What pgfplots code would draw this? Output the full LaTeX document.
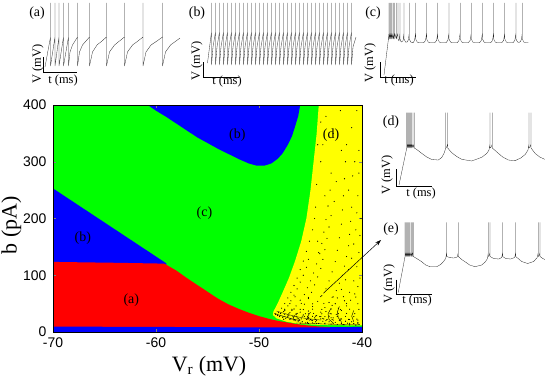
\documentclass[border=0pt]{standalone}
\usepackage{pgfplots}
\pgfplotsset{compat=1.18}
\usepackage{fontspec}
\setmainfont{Liberation Serif}
\setsansfont{Liberation Sans}
\usetikzlibrary{arrows.meta}

\definecolor{pgreen}{RGB}{0,255,0}
\definecolor{pblue}{RGB}{0,0,255}
\definecolor{pred}{RGB}{255,0,0}
\definecolor{pyellow}{RGB}{255,255,0}

\pgfplotsset{
  inset/.style={anchor=south west, x=1bp, y=1bp, xmin=0, xmax=160, ymin=0, ymax=80,
    hide axis, clip=false, enlargelimits=false},
  trace/.style={black!85, line width=0.3pt, line join=round},
  bar/.style={black, line width=0.5pt},
}
\newcommand{\lab}{\fontsize{14}{14}\selectfont}
\newcommand{\smalllab}{\fontsize{12.5}{12.5}\selectfont}

\begin{document}
\begin{tikzpicture}
\useasboundingbox (0,0) rectangle (545bp,-382bp);

% ---------------- main phase diagram ----------------
\begin{axis}[
    at={(53bp,-332bp)}, anchor=south west,
    scale only axis, width=309bp, height=227bp,
    xmin=-70, xmax=-40, ymin=0, ymax=400,
    xtick={-70,-60,-50,-40}, ytick={0,100,200,300,400},
    tick align=inside, major tick length=3bp,
    ticklabel style={font=\sffamily\fontsize{14}{14}\selectfont},
    yticklabel style={xshift=-3bp},
    xticklabel style={yshift=-2bp},
    /pgf/number format/assume math mode=true,
    xlabel={V\textsubscript{r} (mV)}, ylabel={b (pA)},
    label style={font=\fontsize{22}{22}\selectfont},
    xlabel style={at={(axis description cs:0.505,-0.15)}, anchor=center},
    ylabel style={at={(axis description cs:-0.135,0.47)}, anchor=center},
    axis on top,
]
% (c) background
\addplot[fill=pgreen, draw=none] coordinates {(-70,0)(-40,0)(-40,400)(-70,400)} -- cycle;
% (b) lower left
\addplot[fill=pblue, draw=none] coordinates {
  (-70,118)(-70,253)(-67,217)(-64,181)(-61,145)(-59,121)(-59,118)} -- cycle;
% (a) red
\addplot[fill=pred, draw=none] coordinates {
  (-70,5)(-70,123.5)(-64,122)(-59.2,120.5)(-58,108)(-57,95)(-56,83)(-55,71)(-54,59)
  (-53,49)(-52,41)(-51,34)(-50,28)(-49,23)(-48,19)(-47,16)(-46,13)(-45,11)
  (-44,9.5)(-43,8.5)(-40,8.5)(-40,5)} -- cycle;
% bottom blue band
\addplot[fill=pblue, draw=none] coordinates {
  (-70,0)(-70,9.5)(-60,9)(-50,8)(-45,8)(-40,9)(-40,0)} -- cycle;
% (b) upper
\addplot[fill=pblue, draw=none] coordinates {
  (-60.8,400)(-60,390)(-59,379)(-58,367)(-57,355)(-56,343)(-55,333)(-54,323)
  (-53,314)(-52,305)(-51,297)(-50.2,293)(-49.5,293)(-48.8,297)(-48.2,305)
  (-47.7,315)(-47.2,330)(-46.8,345)(-46.5,362)(-46.2,380)(-46,400)} -- cycle;
% (d) yellow
\addplot[fill=pyellow, draw=none] coordinates {
  (-44.2,400)(-44.4,350)(-44.7,300)(-45.0,250)(-45.4,200)(-45.9,160)(-46.5,125)
  (-47.1,95)(-47.7,70)(-48.2,50)(-48.6,36)(-48.65,30)(-48.3,24)(-47.3,18)
  (-46,14)(-44,12.5)(-42,12)(-40,11.5)(-40,400)} -- cycle;
% chaotic points
\addplot[only marks, mark=*, mark size=0.28pt, black] coordinates {
  (-48.1,34)(-47.8,42)(-47.5,50)(-47.2,60)(-46.9,70)(-46.6,82)(-46.3,95)(-46.0,110)
  (-45.7,125)(-45.4,142)(-45.1,160)(-44.8,180)(-44.6,200)
  (-47.2,30)(-46.8,38)(-46.4,46)(-46.0,56)(-45.6,66)(-45.3,78)(-45.0,90)(-44.7,104)
  (-44.4,120)(-44.1,138)(-43.9,156)(-43.7,176)(-43.5,198)(-43.3,222)(-43.1,250)(-43.0,280)
  (-46.2,24)(-45.7,30)(-45.2,37)(-44.8,45)(-44.3,54)(-43.9,64)(-43.5,76)(-43.2,90)
  (-42.9,106)(-42.6,124)(-42.4,144)(-42.2,166)(-42.0,190)(-41.9,215)(-41.8,240)
  (-41.7,270)(-41.6,300)(-41.5,330)
  (-44.5,18)(-43.8,24)(-43.0,32)(-42.3,42)(-41.7,55)(-41.2,70)(-40.8,90)(-40.5,115)
  (-40.3,140)(-40.2,170)(-40.1,200)
  (-45.5,16)(-44.8,20)(-44.1,27)(-43.5,36)(-42.9,47)(-42.4,60)(-42,75)(-41.6,92)
  (-41.3,110)(-41,130)(-40.8,155)(-40.6,180)(-40.5,210)(-40.4,240)(-40.3,280)(-40.3,320)
  (-47.5,38)(-47.2,46)(-46.9,55)(-46.6,65)(-46.3,76)(-46,88)(-45.7,100)(-45.4,114)(-45.2,128)
  (-46.4,32)(-46,40)(-45.6,49)(-45.2,59)(-44.9,70)(-44.6,83)(-44.3,97)(-44,112)
  (-43.8,128)(-43.6,145)(-43.4,165)(-43.2,185)(-43,205)
  (-45.0,22)(-44.5,28)(-44,35)(-43.6,43)(-43.2,52)(-42.8,62)(-42.5,73)(-42.2,86)
  (-41.9,100)(-41.7,116)(-41.5,133)(-41.3,152)(-41.2,172)(-41.1,195)(-41,220)
  (-43.5,20)(-43,25)(-42.5,31)(-42,38)(-41.5,46)(-41.1,56)(-40.7,67)(-40.4,80)(-40.2,95)
  (-44.2,140)(-44.3,160)(-44.5,220)(-44.4,260)(-44.3,330)(-44,370)
  (-48.4,31)(-48.2,29)(-48,27)(-47.7,26)(-47.4,24)(-47,22)(-46.6,21)(-46.2,19)
  (-45.8,18)(-45.3,17)(-44.8,16)(-44.2,15)(-43.6,14.5)(-43,14)(-42.4,13.5)(-41.8,13)
  (-41.2,12.5)(-40.6,12)
  (-47.9,33)(-47.5,31)(-47.1,29)(-46.7,27)(-46.3,25)(-45.9,23)(-45.4,22)(-44.9,21)
  (-44.4,20)(-43.8,19)(-43.2,18)(-42.6,17)(-42,16)(-41.4,15.5)(-40.8,15)
  (-47.6,36)(-47.0,34)(-46.4,31)(-45.8,28)(-45.2,26)(-44.6,25)(-44,23)(-43.4,22)
  (-42.8,21)(-42.2,20)(-41.6,19)(-41,18)(-40.4,17)
  (-46.8,40)(-46,35)(-45.2,32)(-44.4,29)(-43.6,27)(-42.8,25)(-42,23)(-41.2,22)(-40.4,21)
  (-47.6,22.5)(-46.9,22.8)(-46.1,22.2)(-45.3,23)(-44.5,22.4)(-43.7,22.9)(-42.9,22.3)
  (-42.1,22.8)(-41.3,22.2)(-40.5,22.7)
  (-48.0,27.5)(-47.2,27.2)(-46.4,27.8)(-45.6,27.3)(-44.8,27.7)(-44.0,27.2)(-43.2,27.8)
  (-42.4,27.3)(-41.6,27.6)(-40.8,27.2)
  (-47.9,32.5)(-47.1,32.1)(-46.3,32.8)(-45.5,32.2)(-44.7,32.7)(-43.9,32.1)(-43.1,32.6)
  (-42.3,32.3)(-41.5,32.8)(-40.7,32.2)
  (-46.0,15.5)(-45.2,15)(-44.4,15.2)(-43.6,15.6)(-42.8,15.1)(-42.0,14.8)(-41.2,15.3)(-40.4,14.9)
  (-47.5,40)(-46.6,40.5)(-45.7,39.6)(-44.8,40.3)(-43.9,39.8)(-43.0,40.4)(-42.1,39.7)
  (-41.2,40.2)(-40.3,39.9)
  (-47.0,50)(-45.9,50.5)(-44.8,49.6)(-43.7,50.3)(-42.6,49.8)(-41.5,50.4)(-40.4,49.7)
  (-46.5,62)(-45.2,61)(-44.0,62.5)(-42.9,61.3)(-41.8,62.2)(-40.6,61.6)
  (-43.5,380)(-42.8,350)(-41,360)(-40.5,390)(-42,320)(-43.8,330)(-44,300)(-42.5,265)
  (-40.7,300)(-41.3,250)(-43.6,240)(-42.1,390)(-40.9,275)(-42.7,230)
};
% dense streaks near the bottom
\addplot[black, line width=0.5pt] coordinates {
  (-48.5,33)(-48.1,30)(-47.5,27)(-46.8,23)(-46,20)};
\addplot[black, line width=0.3pt] coordinates {(-48.3,37)(-47.6,33)(-46.6,28)(-45.5,24)(-44,21)};
\addplot[black, line width=0.3pt] coordinates {(-46.4,16)(-45,15)(-43.5,14)(-42,13.5)(-40.2,13)};
\addplot[black, line width=0.4pt] coordinates {(-43,42)(-43.3,32)(-43.2,22)(-42.8,16)};
\addplot[black, line width=0.4pt] coordinates {(-42.2,45)(-42.4,35)(-42.3,25)(-42,18)};
\addplot[black, line width=0.4pt] coordinates {(-45,35)(-45.3,27)(-45.1,20)};
\addplot[black, line width=0.4pt] coordinates {(-46.5,30)(-46.7,24)(-46.4,19)};
\addplot[black, line width=0.4pt] coordinates {(-40.8,38)(-41,28)(-40.8,18)};

\node[font=\lab] at (axis cs:-52.1,347) {(b)};
\node[font=\lab] at (axis cs:-43,347) {(d)};
\node[font=\lab] at (axis cs:-55.3,210) {(c)};
\node[font=\lab] at (axis cs:-67.1,166) {(b)};
\node[font=\lab] at (axis cs:-62.4,57) {(a)};
\end{axis}

\draw[-{Stealth[length=6bp,width=4bp]}, line width=0.5pt] (323.3bp,-293.3bp) -- (381bp,-240bp);

% ---------------- inset (a) ----------------
\begin{axis}[inset, at={(43bp,-72bp)}]
\addplot[trace] coordinates {
  (2,5)(7.5,35)(7.5,69)(7.5,6)(12,35)(12,69)(12,6)(16,35)(16,69)(16,6)
  (20.5,35)(20.5,69)(20.5,6)(25.5,35)(25.5,69)(25.5,6)
  (27,20)(29.5,27)(32,31)(34.5,35)(34.5,69)(34.5,6)
  (36.5,20)(39.5,27)(43,31)(46.5,35)(46.5,69)(46.5,6)
  (49.5,20)(54,27)(59,31)(63.5,35)(63.5,69)(63.5,6)
  (66.5,20)(71.5,27)(76.5,31)(81.5,35)(81.5,69)(81.5,6)
  (84.5,20)(89.5,27)(95,31)(100,35)(100,69)(100,6)
  (103,20)(108,27)(114,31)(119.5,35)(119.5,69)(119.5,6)
  (122.5,20)(127.5,27)(133,31)(137,34)};
\addplot[bar] coordinates {(0,15)(0,0)(34,0)};
\end{axis}

% ---------------- inset (b) ----------------
\begin{axis}[inset, at={(203.5bp,-77bp)}]
\addplot[trace] coordinates {
  (4,14)
  (8,45)(8,74)(8,12)(9.5,30)(12,45)(12,74)(12,12)(13.5,30)
  (16,45)(16,74)(16,12)(17.5,30)(20,45)(20,74)(20,12)(21.5,30)
  (24,45)(24,74)(24,12)(25.5,30)(28,45)(28,74)(28,12)(29.5,30)
  (32,45)(32,74)(32,12)(33.5,30)(36,45)(36,74)(36,12)(37.5,30)
  (40,45)(40,74)(40,12)(41.5,30)(44,45)(44,74)(44,12)(45.5,30)
  (48,45)(48,74)(48,12)(49.5,30)(52,45)(52,74)(52,12)(53.5,30)
  (56,45)(56,74)(56,12)(57.5,30)(60,45)(60,74)(60,12)(61.5,30)
  (64,45)(64,74)(64,12)(65.5,30)(68,45)(68,74)(68,12)(69.5,30)
  (72,45)(72,74)(72,12)(73.5,30)(76,45)(76,74)(76,12)(77.5,30)
  (80,45)(80,74)(80,12)(81.5,30)(84,45)(84,74)(84,12)(85.5,30)
  (88,45)(88,74)(88,12)(89.5,30)(92,45)(92,74)(92,12)(93.5,30)
  (96,45)(96,74)(96,12)(97.5,30)(100,45)(100,74)(100,12)(101.5,30)
  (104,45)(104,74)(104,12)(105.5,30)(108,45)(108,74)(108,12)(109.5,30)
  (112,45)(112,74)(112,12)(113.5,30)(116,45)(116,74)(116,12)(117.5,30)
  (120,45)(120,74)(120,12)(121.5,30)(124,45)(124,74)(124,12)(125.5,30)
  (128,45)(128,74)(128,12)(129.5,30)(132,45)(132,74)(132,12)(133.5,30)
  (136,45)(136,74)(136,12)(137.5,30)(140,45)(140,74)(140,12)(141.5,30)
  (144,45)(144,74)(144,12)(145.5,30)(148,45)(148,74)(148,12)(149.5,30)
  (152.5,40)};
\addplot[bar] coordinates {(0,15)(0,0)(35,0)};
\end{axis}

% ---------------- inset (c) ----------------
\begin{axis}[inset, at={(380.7bp,-77bp)}]
\addplot[trace] coordinates {
  (3.3,2)(7.6,37)
  (8.3,44)(8.3,74)(8.3,38)(9.3,44)(9.3,74)(9.3,38)(10.3,44)(10.3,74)(10.3,38)
  (11.3,44)(11.3,74)(11.3,38)(12.6,44)(12.6,74)(12.6,38)(14,44)(14,74)(14,38)
  (15.6,44)(15.6,74)(15.6,38)(17.3,44)(17.3,74)(17.3,38)
  (18.3,36)(19.3,44)(19.3,74)(19.3,38)
  (20.5,35)(22.3,36)(23.3,44)(23.3,74)(23.3,38)
  (25,34.8)(26.5,35)(27.6,37)(28.6,44)(28.6,74)(28.6,38)
  (30,35)(31.5,34.4)(32.5,34.4)(33.8,36.5)(35,44)(35,74)(35,38)
  (36.5,35)(38,34.3)(43,34.3)(44.8,36.5)(46,44)(46,74)(46,38)
  (47.5,35)(49,34.3)(54.1,34.3)(55.9,36.5)(57.1,44)(57.1,74)(57.1,38)
  (58.6,35)(60.1,34.3)(65.3,34.3)(67.1,36.5)(68.3,44)(68.3,74)(68.3,38)
  (69.8,35)(71.3,34.3)(76.5,34.3)(78.3,36.5)(79.5,44)(79.5,74)(79.5,38)
  (81,35)(82.5,34.3)(87.6,34.3)(89.4,36.5)(90.6,44)(90.6,74)(90.6,38)
  (92.1,35)(93.6,34.3)(98.8,34.3)(100.6,36.5)(101.8,44)(101.8,74)(101.8,38)
  (103.3,35)(104.8,34.3)(110,34.3)(111.8,36.5)(113,44)(113,74)(113,38)
  (114.5,35)(116,34.3)(121.1,34.3)(122.9,36.5)(124.1,44)(124.1,74)(124.1,38)
  (125.6,35)(127.1,34.3)(132.3,34.3)(134.1,36.5)(135.3,44)(135.3,74)(135.3,38)
  (136.8,35)(138.3,34.6)(139.8,35.5)(140.8,38)(141.6,44)(141.6,74)(141.6,38)
  (143.1,35)(144.6,34.3)(147.6,34.3)};
\addplot[bar] coordinates {(0,15)(0,0)(35,0)};
\end{axis}

% ---------------- inset (d) ----------------
\begin{axis}[inset, at={(396.7bp,-186bp)}]
\addplot[trace] coordinates {
  (2.3,1)(10,37.7)
  (10,42)(10,73.3)(10,38)(11,42)(11,73.3)(11,38)(12,42)(12,73.3)(12,38)
  (13,42)(13,73.3)(13,38)(14,42)(14,73.3)(14,38)(15,42)(15,73.3)(15,38)
  (16.3,42)(16.3,73.3)(16.3,38)(17.6,42)(17.6,73.3)(17.6,38)
  (20,36.5)(25,32.7)(30,29)(35,26.5)(41.6,26)(45,28.5)(47.5,33)(49,38)
  (49,42)(49,73.3)(49,38)(50,39)(51,42)(51,73.3)(51,38)
  (55,33.3)(60,29.5)(65,26.7)(75,25)(85,28.7)(90,32.5)(92.3,36)
  (93.3,42)(93.3,73.3)(93.3,38)(94.5,39)(95.6,42)(95.6,73.3)(95.6,38)
  (101.6,32.7)(106,29)(111.6,26)(118.3,25.3)(124,28)(128.5,31.5)(131.3,36)
  (132.3,42)(132.3,73.3)(132.3,38)(133.3,39)(134.3,42)(134.3,73.3)(134.3,38)
  (138.3,32.7)(143,29)(148,26.7)};
\addplot[bar] coordinates {(0,17)(0,0)(35,0)};
\end{axis}

% ---------------- inset (e) ----------------
\begin{axis}[inset, at={(396.7bp,-294.5bp)}]
\addplot[trace] coordinates {
  (1.5,2)(8.3,37.8)
  (8.3,42)(8.3,72)(8.3,38)(9.3,42)(9.3,72)(9.3,38)(10.3,42)(10.3,72)(10.3,38)
  (11.3,42)(11.3,72)(11.3,38)(12.3,42)(12.3,72)(12.3,38)(13.3,42)(13.3,72)(13.3,38)
  (14.5,42)(14.5,72)(14.5,38)(15.7,42)(15.7,72)(15.7,38)(16.6,42)(16.6,72)(16.6,38)
  (20,36)(25,32.8)(29,29.5)(33.3,27.8)(40,27.8)(44,30)(46.6,32.8)(49,36)
  (50,42)(50,72)(50,38)
  (53,37)(57,36.5)(60.5,37.5)(61.6,42)(61.6,72)(61.6,38)
  (65,35)(68.3,32.8)(73,29.5)(78.3,27.8)(85,29.5)(88.5,32.5)(90.8,36)
  (91.6,42)(91.6,72)(91.6,38)(92.5,39)(93.3,42)(93.3,72)(93.3,38)
  (97,36)(102,35.5)(105,37)(106,42)(106,72)(106,38)
  (109,36)(114,35.5)(118,37)(119,42)(119,72)(119,38)
  (125,33)(131,31)(137,33)(140.5,37)
  (141.6,42)(141.6,72)(141.6,38)(142.5,39)(143.3,42)(143.3,72)(143.3,38)
  (146,36)(148.3,35)};
\addplot[bar] coordinates {(0,15)(0,0)(35,0)};
\end{axis}

% ---------------- inset labels ----------------
\node[font=\lab] at (37bp,-13bp) {(a)};
\node[font=\smalllab, rotate=90] at (38bp,-64bp) {V (mV)};
\node[font=\smalllab] at (63bp,-81bp) {t (ms)};
\node[font=\lab] at (197bp,-13bp) {(b)};
\node[font=\smalllab, rotate=90] at (197bp,-61bp) {V (mV)};
\node[font=\smalllab] at (227bp,-82bp) {t (ms)};
\node[font=\lab] at (373bp,-13bp) {(c)};
\node[font=\smalllab, rotate=90] at (370bp,-63bp) {V (mV)};
\node[font=\smalllab] at (399bp,-81bp) {t (ms)};
\node[font=\lab] at (391bp,-122bp) {(d)};
\node[font=\smalllab, rotate=90] at (387bp,-175bp) {V (mV)};
\node[font=\smalllab] at (421bp,-194bp) {t (ms)};
\node[font=\lab] at (391bp,-229bp) {(e)};
\node[font=\smalllab, rotate=90] at (389bp,-284bp) {V (mV)};
\node[font=\smalllab] at (417bp,-301bp) {t (ms)};
\end{tikzpicture}
\end{document}
